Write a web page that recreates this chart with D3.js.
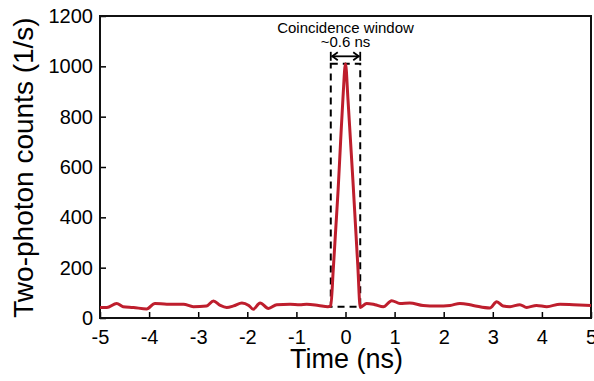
<!DOCTYPE html>
<html>
<head>
<meta charset="utf-8">
<script src="https://cdn.jsdelivr.net/npm/d3@7"></script>
<style>
  body { margin: 0; background: #fff; }
  text { font-family: "Liberation Sans", Arial, sans-serif; }
</style>
</head>
<body>
<div id="chart"></div>
<script>
  // time (ns) and two-photon counts (1/s)
  const timeNs = [-5, -4.86, -4.66, -4.53, -4.32, -4.05, -3.88, -3.64, -3.3, -3.1, -2.83, -2.69, -2.55, -2.42,
    -2.28, -2.11, -1.97, -1.88, -1.74, -1.57, -1.4, -1.13, -0.93, -0.79, -0.55, -0.36, -0.3,
    -0.25, -0.2, -0.15, -0.1, -0.05, 0, 0.05, 0.1, 0.15, 0.2, 0.25, 0.3,
    0.43, 0.6, 0.77, 0.94, 1.11, 1.31, 1.58, 1.86, 2.13, 2.33, 2.6, 2.94, 3.08, 3.21, 3.35,
    3.55, 3.69, 3.89, 4.1, 4.37, 4.64, 5];
  const counts = [42, 42, 58, 45, 42, 36, 58, 55, 55, 45, 48, 68, 50, 42,
    48, 60, 50, 35, 60, 38, 53, 55, 53, 55, 50, 45, 48,
    190, 350, 510, 700, 880, 1010, 870, 710, 550, 380, 210, 42,
    58, 53, 45, 69, 58, 60, 50, 48, 50, 58, 50, 40, 65, 48, 45,
    53, 42, 50, 45, 55, 53, 50];

  const xTicks = [-5, -4, -3, -2, -1, 0, 1, 2, 3, 4, 5];
  const yTicks = [0, 200, 400, 600, 800, 1000, 1200];
  const windowNs = [-0.3, 0.3];

  const margin = {top: 16, right: 3, bottom: 63, left: 100};
  const width = 594 - margin.left - margin.right;
  const height = 381 - margin.top - margin.bottom;

  const svg = d3.select("#chart").append("svg")
    .attr("width", 594)
    .attr("height", 381)
    .append("g")
    .attr("transform", `translate(${margin.left},${margin.top})`);

  const x = d3.scaleLinear().domain([-5, 5]).range([0, width]);
  const y = d3.scaleLinear().domain([0, 1200]).range([height, 0]);

  // plain hyphen minus and no thousands comma, like the original
  const plain = d => String(d);

  // bottom axis, ticks pointing inward
  const xAxis = svg.append("g")
    .attr("transform", `translate(0,${height})`)
    .call(d3.axisBottom(x).tickValues(xTicks).tickFormat(plain)
      .tickSizeInner(-6).tickSizeOuter(0).tickPadding(12));
  xAxis.selectAll("text").attr("font-size", 20).attr("fill", "#000");

  const yAxis = svg.append("g")
    .call(d3.axisLeft(y).tickValues(yTicks).tickFormat(plain)
      .tickSizeInner(-6).tickSizeOuter(0).tickPadding(7));
  yAxis.selectAll("text").attr("font-size", 20).attr("fill", "#000");

  svg.selectAll(".domain").remove();
  svg.selectAll(".tick line").attr("stroke", "#000").attr("stroke-width", 1.5);

  // frame
  svg.append("rect")
    .attr("width", width)
    .attr("height", height)
    .attr("fill", "none")
    .attr("stroke", "#111")
    .attr("stroke-width", 2);

  // coincidence window box
  const yBase = 45;
  const yTop = 1010;
  svg.append("rect")
    .attr("x", x(windowNs[0]))
    .attr("y", y(yTop))
    .attr("width", x(windowNs[1]) - x(windowNs[0]))
    .attr("height", y(yBase) - y(yTop))
    .attr("fill", "none")
    .attr("stroke", "#000")
    .attr("stroke-width", 2)
    .attr("stroke-dasharray", "7,5");

  // the data line
  const pts = timeNs.map((t, i) => [t, counts[i]]);
  svg.append("path")
    .datum(pts)
    .attr("fill", "none")
    .attr("stroke", "#be1e2d")
    .attr("stroke-width", 3)
    .attr("stroke-linejoin", "round")
    .attr("d", d3.line()
      .x(d => x(d[0]))
      .y(d => y(d[1]))
      .curve(d3.curveMonotoneX));

  // double arrow for the window width
  const ay = y(yTop) - 7.5;
  const ax0 = x(windowNs[0]);
  const ax1 = x(windowNs[1]);
  const arrow = svg.append("g").attr("stroke", "#000").attr("stroke-width", 1.8).attr("fill", "none");
  arrow.append("line").attr("x1", ax0).attr("x2", ax0).attr("y1", ay - 4.5).attr("y2", ay + 4.5);
  arrow.append("line").attr("x1", ax1).attr("x2", ax1).attr("y1", ay - 4.5).attr("y2", ay + 4.5);
  arrow.append("line").attr("x1", ax0 + 1).attr("x2", ax1 - 1).attr("y1", ay).attr("y2", ay);
  arrow.append("path").attr("d", `M${ax0 + 7},${ay - 4}L${ax0 + 1.5},${ay}L${ax0 + 7},${ay + 4}`);
  arrow.append("path").attr("d", `M${ax1 - 7},${ay - 4}L${ax1 - 1.5},${ay}L${ax1 - 7},${ay + 4}`);

  svg.append("text")
    .attr("x", x(0))
    .attr("y", 16.5)
    .attr("text-anchor", "middle")
    .attr("font-size", 15)
    .text("Coincidence window");
  svg.append("text")
    .attr("x", x(0))
    .attr("y", 30.5)
    .attr("text-anchor", "middle")
    .attr("font-size", 15)
    .text("~0.6 ns");

  // axis titles
  svg.append("text")
    .attr("x", width / 2 + 1)
    .attr("y", height + 50)
    .attr("text-anchor", "middle")
    .attr("font-size", 27)
    .text("Time (ns)");

  svg.append("text")
    .attr("transform", "rotate(-90)")
    .attr("x", -height / 2 - 0.5)
    .attr("y", -margin.left + 33)
    .attr("text-anchor", "middle")
    .attr("font-size", 28)
    .text("Two-photon counts (1/s)");
</script>
</body>
</html>
